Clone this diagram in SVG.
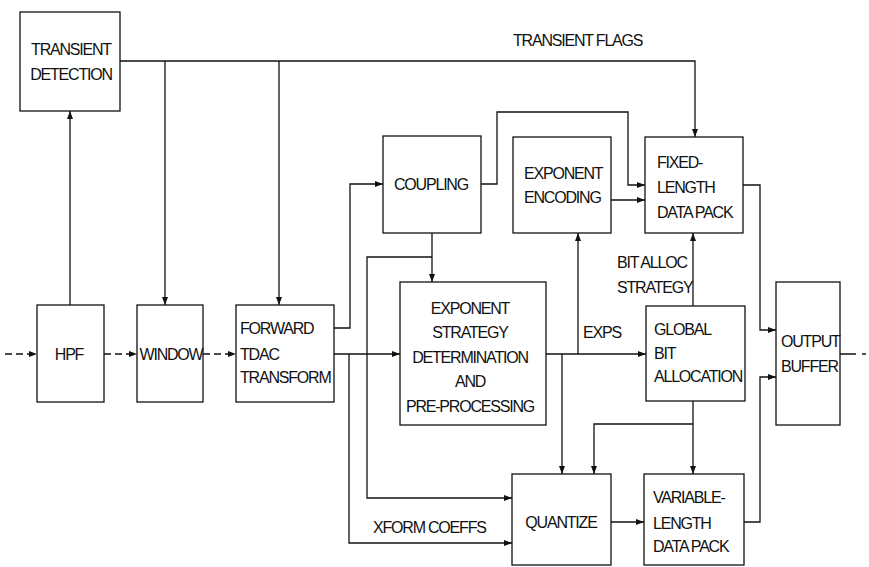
<svg xmlns="http://www.w3.org/2000/svg" width="869" height="567" viewBox="0 0 869 567">
<style>
.box{fill:#fff;stroke:#111;stroke-width:1.3}
.ln{fill:none;stroke:#111;stroke-width:1.3}
.dash{stroke-dasharray:7 4}
text{font-family:"Liberation Sans",Arial,sans-serif;font-size:16px;letter-spacing:-1.2px;fill:#111}
.c{text-anchor:middle}
</style>
<defs>
<marker id="ah" markerUnits="userSpaceOnUse" markerWidth="8" markerHeight="6" refX="8" refY="3" orient="auto">
<path d="M0,0 L8,3 L0,6 Z" fill="#111"/>
</marker>
</defs>
<rect width="869" height="567" fill="#fff"/>
<g id="connectors">
<path class="ln dash" d="M5,354 H37" marker-end="url(#ah)"/>
<path class="ln dash" d="M104,354 H137" marker-end="url(#ah)"/>
<path class="ln dash" d="M203,354 H236" marker-end="url(#ah)"/>
<path class="ln" d="M70,305 V111" marker-end="url(#ah)"/>
<path class="ln" d="M120,61 H695 V137" marker-end="url(#ah)"/>
<path class="ln" d="M165,61 V305" marker-end="url(#ah)"/>
<path class="ln" d="M279,61 V305" marker-end="url(#ah)"/>
<path class="ln" d="M334,328 H350 V184 H383" marker-end="url(#ah)"/>
<path class="ln" d="M334,354 H400" marker-end="url(#ah)"/>
<path class="ln" d="M349,354 V543 H512" marker-end="url(#ah)"/>
<path class="ln" d="M432,233 V282" marker-end="url(#ah)"/>
<path class="ln" d="M432,257 H367 V498 H512" marker-end="url(#ah)"/>
<path class="ln" d="M481,184 H497 V112 H628 V185 H645" marker-end="url(#ah)"/>
<path class="ln" d="M611,200 H645" marker-end="url(#ah)"/>
<path class="ln" d="M546,354 H646" marker-end="url(#ah)"/>
<path class="ln" d="M578,354 V233" marker-end="url(#ah)"/>
<path class="ln" d="M562,354 V474" marker-end="url(#ah)"/>
<path class="ln" d="M693,306 V233" marker-end="url(#ah)"/>
<path class="ln" d="M693,401 V474" marker-end="url(#ah)"/>
<path class="ln" d="M693,424 H594 V474" marker-end="url(#ah)"/>
<path class="ln" d="M611,522 H644" marker-end="url(#ah)"/>
<path class="ln" d="M744,522 H760 V377 H776" marker-end="url(#ah)"/>
<path class="ln" d="M743,185 H760 V330 H776" marker-end="url(#ah)"/>
<path class="ln" d="M840,354 H856 M862,354 H866"/>
<text x="513" y="46">TRANSIENT FLAGS</text>
<text x="617" y="268">BIT ALLOC</text>
<text x="617" y="293">STRATEGY</text>
<text x="583" y="338">EXPS</text>
<text x="373" y="533">XFORM COEFFS</text>
</g>
<g id="transient-detection">
<rect class="box" x="20" y="12" width="100" height="99"/>
<text class="c" x="71" y="55">TRANSIENT</text>
<text class="c" x="71" y="80">DETECTION</text>
</g>
<g id="hpf">
<rect class="box" x="37" y="305" width="67" height="97"/>
<text class="c" x="69" y="360">HPF</text>
</g>
<g id="window">
<rect class="box" x="137" y="305" width="66" height="97"/>
<text class="c" x="171" y="360">WINDOW</text>
</g>
<g id="forward-tdac">
<rect class="box" x="236" y="305" width="98" height="97"/>
<text x="240" y="334">FORWARD</text>
<text x="240" y="360">TDAC</text>
<text x="240" y="383">TRANSFORM</text>
</g>
<g id="coupling">
<rect class="box" x="383" y="136" width="98" height="97"/>
<text class="c" x="431" y="190">COUPLING</text>
</g>
<g id="exponent-encoding">
<rect class="box" x="513" y="137" width="98" height="96"/>
<text x="524" y="179">EXPONENT</text>
<text x="524" y="203">ENCODING</text>
</g>
<g id="fixed-length">
<rect class="box" x="645" y="137" width="98" height="96"/>
<text x="657" y="168">FIXED-</text>
<text x="657" y="193">LENGTH</text>
<text x="657" y="218">DATA PACK</text>
</g>
<g id="exponent-strategy">
<rect class="box" x="400" y="282" width="146" height="143"/>
<text class="c" x="470" y="314">EXPONENT</text>
<text class="c" x="470" y="338">STRATEGY</text>
<text class="c" x="470" y="363">DETERMINATION</text>
<text class="c" x="470" y="387">AND</text>
<text class="c" x="470" y="412">PRE-PROCESSING</text>
</g>
<g id="global-bit-allocation">
<rect class="box" x="646" y="306" width="99" height="95"/>
<text x="654" y="335">GLOBAL</text>
<text x="654" y="359">BIT</text>
<text x="654" y="382">ALLOCATION</text>
</g>
<g id="output-buffer">
<rect class="box" x="776" y="282" width="64" height="143"/>
<text x="781" y="347">OUTPUT</text>
<text x="781" y="372">BUFFER</text>
</g>
<g id="quantize">
<rect class="box" x="512" y="474" width="99" height="91"/>
<text class="c" x="561" y="528">QUANTIZE</text>
</g>
<g id="variable-length">
<rect class="box" x="644" y="474" width="100" height="91"/>
<text x="653" y="503">VARIABLE-</text>
<text x="653" y="529">LENGTH</text>
<text x="653" y="552">DATA PACK</text>
</g>
</svg>
